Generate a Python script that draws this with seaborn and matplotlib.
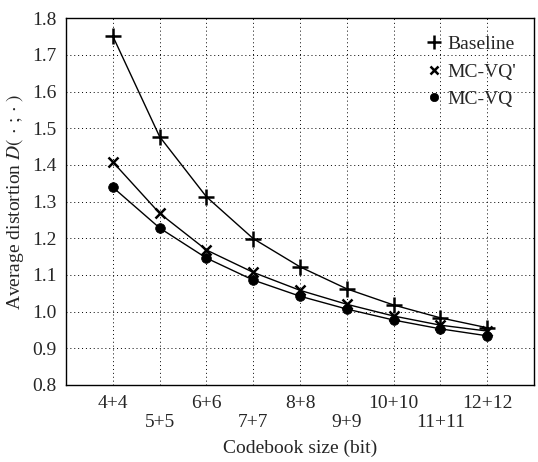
import numpy as np
import pandas as pd
import matplotlib
matplotlib.use("Agg")
import matplotlib.pyplot as plt
import seaborn as sns
from matplotlib.lines import Line2D

# datos
tamanos = ["4+4", "5+5", "6+6", "7+7", "8+8", "9+9", "10+10", "11+11", "12+12"]
baseline = [1.751, 1.477, 1.313, 1.199, 1.122, 1.062, 1.018, 0.983, 0.956]
mcvq_prima = [1.408, 1.268, 1.168, 1.107, 1.058, 1.020, 0.988, 0.963, 0.947]
mcvq = [1.339, 1.228, 1.146, 1.086, 1.042, 1.007, 0.977, 0.953, 0.934]

posiciones = np.arange(1, len(tamanos) + 1)
df = pd.DataFrame({
    "pos": np.tile(posiciones, 3),
    "valor": baseline + mcvq_prima + mcvq,
    "serie": ["Baseline"] * 9 + ["MC-VQ'"] * 9 + ["MC-VQ"] * 9,
})

sns.set_style("white")
plt.rcParams['font.family'] = ['Liberation Serif', 'DejaVu Serif']
plt.rcParams['mathtext.fontset'] = 'stix'

fig = plt.figure(figsize=(5.38, 4.62), dpi=100)
ax = fig.add_axes([0.1227, 0.1667, 0.870, 0.794])

marcadores = {"Baseline": "+", "MC-VQ'": "x", "MC-VQ": "o"}
tam_marc = {"Baseline": 11, "MC-VQ'": 7, "MC-VQ": 7}
for serie in ["Baseline", "MC-VQ'", "MC-VQ"]:
    sub = df[df["serie"] == serie]
    sns.lineplot(data=sub, x="pos", y="valor", ax=ax, color="black", lw=1.0,
                 marker=marcadores[serie], markersize=tam_marc[serie],
                 markeredgewidth=1.8 if serie != "MC-VQ" else 0.5,
                 markeredgecolor="black", markerfacecolor="black")

ax.set_xlim(0, 10)
ax.set_ylim(0.8, 1.8)
ax.set_xticks(posiciones)
etiquetas = [t if i % 2 == 0 else "\n" + t for i, t in enumerate(tamanos)]
ax.set_xticklabels(etiquetas, fontsize=14)
ax.set_yticks(np.arange(0.8, 1.81, 0.1))
ax.set_yticklabels([f"{v:.1f}" for v in np.arange(0.8, 1.81, 0.1)], fontsize=14)
ax.tick_params(direction="in", length=4, color="black", pad=7)
ax.grid(True, linestyle=(0, (1, 3)), color="black", lw=0.7)
for s in ax.spines.values():
    s.set_color("black")
    s.set_linewidth(1.0)

ax.set_xlabel("Codebook size (bit)", fontsize=14, labelpad=6)
ax.set_ylabel(r"Average distortion $D(\,\cdot\,;\cdot\,)$", fontsize=14, labelpad=4)

handles = [Line2D([], [], ls="none", marker=marcadores[s], color="black",
                  markersize=tam_marc[s] - 1, markeredgewidth=1.8 if s != "MC-VQ" else 0.5)
           for s in ["Baseline", "MC-VQ'", "MC-VQ"]]
ax.legend(handles, ["Baseline", "MC-VQ'", "MC-VQ"], loc="upper right", frameon=False,
          fontsize=14, handlelength=0.6, handletextpad=0.4, borderaxespad=0.5,
          labelspacing=0.5)

fig.savefig("out.png", dpi=100)
